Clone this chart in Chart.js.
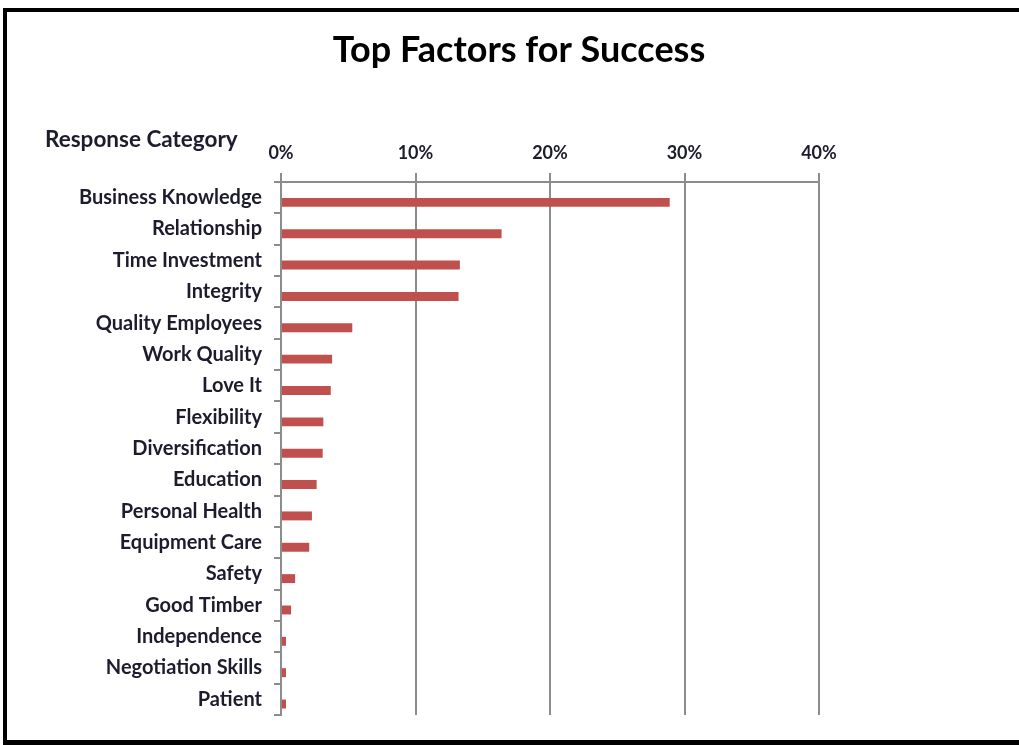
<!DOCTYPE html>
<html>
<head>
<meta charset="utf-8">
<script src="https://cdn.jsdelivr.net/npm/chart.js@4"></script>
<style>
  html, body { margin: 0; padding: 0; background: #fff; overflow: hidden; }
  #chart { position: absolute; left: 0; top: 0; }
  #frame {
    position: absolute; left: 3px; top: 8px; width: 1100px; height: 737px;
    box-sizing: border-box; border: 4px solid #000; border-bottom-width: 5px;
    pointer-events: none;
  }
</style>
</head>
<body>
<canvas id="chart" width="1019" height="745"></canvas>
<div id="frame"></div>
<script>
// data (percent of responses)
const chartTitle = 'Top Factors for Success';
const axisHeading = 'Response Category';
const categories = [
  'Business Knowledge', 'Relationship', 'Time Investment', 'Integrity',
  'Quality Employees', 'Work Quality', 'Love It', 'Flexibility',
  'Diversification', 'Education', 'Personal Health', 'Equipment Care',
  'Safety', 'Good Timber', 'Independence', 'Negotiation Skills', 'Patient'
];
const shares = [28.9, 16.4, 13.3, 13.2, 5.3, 3.8, 3.7, 3.15, 3.1, 2.65, 2.3, 2.1, 1.05, 0.75, 0.37, 0.37, 0.37];
// empty series, only keeps the bars sitting a bit below the category centre like the original
const spacer = categories.map(() => null);
const xMin = 0;
const xMax = 40;
const xStep = 10;

const gridColor = '#8c8c8c';
const textColor = '#1c1c2c';
const fontFamily = 'Lato, "Open Sans", sans-serif';

// title and the heading over the category labels
const decorations = {
  id: 'decorations',
  afterDraw(chart) {
    const ctx = chart.ctx;
    ctx.save();
    ctx.fillStyle = '#000';
    ctx.textBaseline = 'middle';
    ctx.textAlign = 'center';
    ctx.font = 'bold 36px ' + fontFamily;
    ctx.fillText(chartTitle, 519, 50);
    ctx.textAlign = 'left';
    ctx.fillStyle = textColor;
    ctx.font = 'bold 22.5px ' + fontFamily;
    ctx.fillText(axisHeading, 45, 140);
    ctx.restore();
  }
};

var ctx = document.getElementById('chart').getContext('2d');
var myChart = new Chart(ctx, {
  type: 'bar',
  data: {
    labels: categories,
    datasets: [
      {
        data: spacer,
        backgroundColor: 'rgba(0,0,0,0)',
        categoryPercentage: 0.6,
        barPercentage: 0.95
      },
      {
        data: shares,
        backgroundColor: '#c0504d',
        borderWidth: 0,
        categoryPercentage: 0.6,
        barPercentage: 0.95
      }
    ]
  },
  options: {
    indexAxis: 'y',
    responsive: false,
    animation: false,
    layout: { padding: { top: 68, right: 200, bottom: 30, left: 0 } },
    scales: {
      x: {
        position: 'top',
        min: xMin,
        max: xMax,
        afterFit: function (scale) { scale.height = 114; },
        ticks: {
          stepSize: xStep,
          padding: 9,
          color: textColor,
          font: { family: fontFamily, size: 18, weight: 'bold' },
          callback: v => v + '%'
        },
        grid: { color: gridColor, lineWidth: 2, tickLength: 9 },
        border: { color: gridColor, width: 2 }
      },
      y: {
        afterFit: function (scale) { scale.width = 281; },
        ticks: {
          autoSkip: false,
          padding: 12,
          color: textColor,
          font: { family: fontFamily, size: 20, weight: 'bold' }
        },
        grid: { color: gridColor, lineWidth: 2, tickLength: 7, drawOnChartArea: false, offset: true },
        border: { color: gridColor, width: 2 }
      }
    },
    plugins: {
      legend: { display: false },
      tooltip: { enabled: false }
    }
  },
  plugins: [decorations]
});
</script>
</body>
</html>
